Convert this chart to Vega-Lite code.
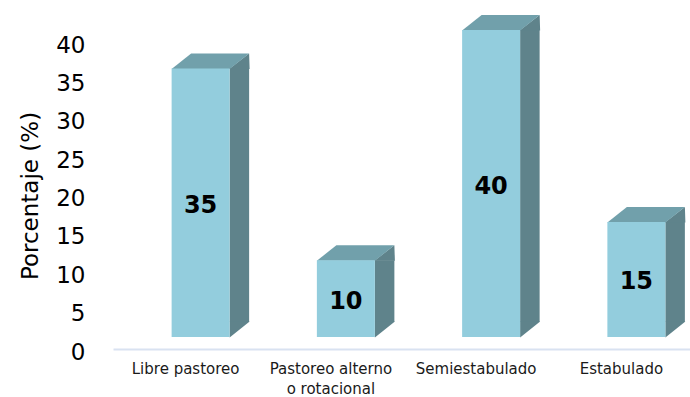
{
  "$schema": "https://vega.github.io/schema/vega-lite/v6.json",
  "width": 577,
  "height": 307,
  "autosize": {"type": "none"},
  "padding": {"left": 113, "top": 42, "right": 0, "bottom": 48},
  "background": "white",
  "config": {"view": {"stroke": null}},
  "data": {
    "values": [
      {"sistema": "Libre pastoreo", "porcentaje": 35},
      {"sistema": "Pastoreo alterno o rotacional", "porcentaje": 10},
      {"sistema": "Semiestabulado", "porcentaje": 40},
      {"sistema": "Estabulado", "porcentaje": 15}
    ]
  },
  "encoding": {
    "x": {
      "field": "sistema",
      "type": "nominal",
      "sort": null,
      "scale": {"range": [0, 581], "paddingInner": 0, "paddingOuter": 0},
      "axis": {
        "title": null,
        "labelAngle": 0,
        "ticks": false,
        "domainColor": "#D9E2F1",
        "domainWidth": 2,
        "labelFont": "DejaVu Sans",
        "labelFontSize": 15,
        "labelColor": "#1a1a1a",
        "labelPadding": 12,
        "labelBaseline": "top",
        "labelLineHeight": 20,
        "labelExpr": "datum.label == 'Pastoreo alterno o rotacional' ? ['Pastoreo alterno', 'o rotacional'] : datum.label"
      }
    }
  },
  "layer": [
    {
      "mark": {"type": "bar", "color": "#5F838B", "width": 19.5, "xOffset": 53.75, "yOffset": -12, "y2Offset": -27},
      "encoding": {
        "y": {
          "field": "porcentaje",
          "type": "quantitative",
          "stack": null,
          "scale": {"domain": [0, 40], "nice": false},
          "axis": {
            "values": [0, 5, 10, 15, 20, 25, 30, 35, 40],
            "domain": false,
            "ticks": false,
            "grid": false,
            "labelFont": "DejaVu Sans",
            "labelFontSize": 23,
            "labelColor": "black",
            "labelPadding": 28,
            "labelOffset": 3,
            "title": "Porcentaje (%)",
            "titleFont": "DejaVu Sans",
            "titleFontSize": 23,
            "titleFontWeight": "normal",
            "titleColor": "black",
            "titlePadding": 13
          }
        },
        "y2": {"datum": 0}
      }
    },
    {
      "mark": {"type": "point", "shape": "M29,0.5L29,-15.5L49,-15.5Z", "size": 4, "filled": true, "color": "#5F838B", "opacity": 1, "strokeWidth": 0, "xOffset": 15, "yOffset": -12},
      "encoding": {
        "y": {"datum": 0, "type": "quantitative", "scale": {"domain": [0, 40], "nice": false}, "axis": null}
      }
    },
    {
      "mark": {"type": "point", "shape": "M28.5,0.5L48.5,-15L49,0.5Z", "size": 4, "filled": true, "color": "#5F838B", "opacity": 1, "strokeWidth": 0, "xOffset": 15, "yOffset": -12},
      "encoding": {
        "y": {"field": "porcentaje", "type": "quantitative", "scale": {"domain": [0, 40], "nice": false}, "axis": null}
      }
    },
    {
      "mark": {"type": "point", "shape": "M-29,0.5L-9.5,-15L48.5,-15L29,0.5Z", "size": 4, "filled": true, "color": "#71A0AB", "opacity": 1, "strokeWidth": 0, "xOffset": 15, "yOffset": -12},
      "encoding": {
        "y": {"field": "porcentaje", "type": "quantitative", "scale": {"domain": [0, 40], "nice": false}, "axis": null}
      }
    },
    {
      "mark": {"type": "bar", "color": "#93CDDD", "width": 58, "xOffset": 15, "yOffset": -12, "y2Offset": -12},
      "encoding": {
        "y": {"field": "porcentaje", "type": "quantitative", "stack": null, "scale": {"domain": [0, 40], "nice": false}, "axis": null},
        "y2": {"datum": 0}
      }
    },
    {
      "mark": {"type": "text", "font": "DejaVu Sans", "fontSize": 24, "fontWeight": "bold", "color": "black", "xOffset": 15, "yOffset": -9, "baseline": "middle", "align": "center"},
      "encoding": {
        "y": {"field": "porcentaje", "type": "quantitative", "scale": {"domain": [0, 80], "nice": false}, "axis": null},
        "text": {"field": "porcentaje", "type": "quantitative"}
      }
    }
  ],
  "resolve": {"scale": {"y": "independent"}}
}
